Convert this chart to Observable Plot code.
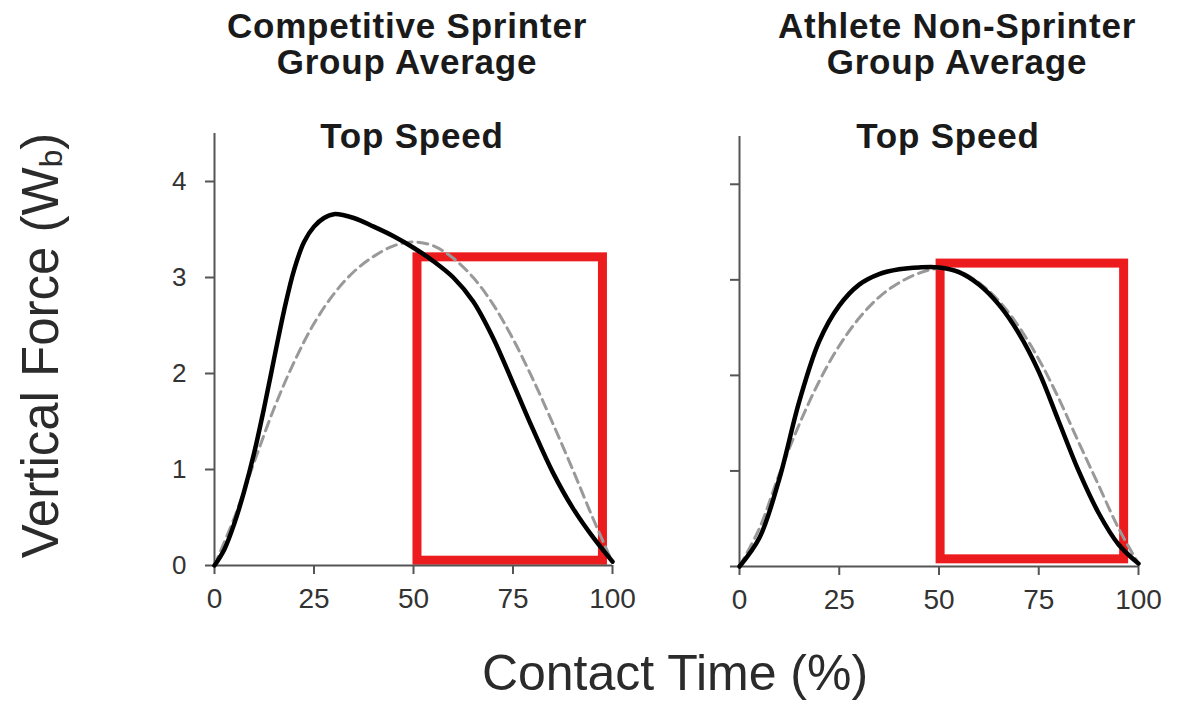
<!DOCTYPE html>
<html>
<head>
<meta charset="utf-8">
<script src="https://cdn.jsdelivr.net/npm/d3@7"></script>
<script src="https://cdn.jsdelivr.net/npm/@observablehq/plot@0.6"></script>
<style>
  html, body { margin: 0; padding: 0; background: #fff; }
  #wrap { position: relative; width: 1178px; height: 708px; overflow: hidden; background: #fff;
          font-family: "Liberation Sans", Arial, sans-serif; }
  .title { position: absolute; width: 500px; text-align: center; font-weight: bold; font-size: 35px;
           line-height: 36px; letter-spacing: 0.8px; color: #1a1a1a; white-space: nowrap; }
  .panel { position: absolute; }
  #xtitle { position: absolute; left: 375px; width: 600px; top: 648px; text-align: center; font-size: 50px;
            line-height: 50px; color: #2b2b2b; white-space: nowrap; }
  #ytitle { position: absolute; width: 500px; height: 51px; left: -210px; top: 320px; text-align: center;
            font-size: 51px; line-height: 51px; color: #2b2b2b; white-space: nowrap; transform: rotate(-90deg); }
  #ytitle span { font-size: 0.62em; position: relative; top: 0.12em; }
</style>
</head>
<body>
<div id="wrap">
  <div class="title" style="left:157px; top:8px;">Competitive Sprinter<br>Group Average</div>
  <div class="title" style="left:707px; top:8px;">Athlete Non-Sprinter<br>Group Average</div>
  <div class="title" style="left:162px; top:118px;">Top Speed</div>
  <div class="title" style="left:698px; top:118px;">Top Speed</div>
  <div id="left" class="panel" style="left:150px; top:120px;"></div>
  <div id="right" class="panel" style="left:675px; top:120px;"></div>
  <div id="ytitle">Vertical Force (W<span>b</span>)</div>
  <div id="xtitle">Contact Time (%)</div>
</div>
<script>
// ---- Data (contact time in %, vertical force in body weights) ----
const sprinterTime = [0, 2.5, 5, 7.5, 10, 12.5, 15, 17.5, 20, 22.5, 25, 27.5, 30, 35, 40, 45, 50, 55, 60, 65, 70, 75, 80, 85, 90, 95, 100];
const sprinterForce = [0, 0.17, 0.44, 0.78, 1.18, 1.65, 2.16, 2.66, 3.08, 3.37, 3.53, 3.62, 3.66, 3.62, 3.53, 3.43, 3.31, 3.17, 3.0, 2.75, 2.37, 1.9, 1.42, 0.97, 0.6, 0.3, 0.04];

const time = [0, 5, 10, 15, 20, 25, 30, 35, 40, 45, 50, 55, 60, 65, 70, 75, 80, 85, 90, 95, 100];
const sprinterModel = [0, 0.5, 1.08, 1.64, 2.12, 2.52, 2.83, 3.06, 3.22, 3.33, 3.37, 3.33, 3.2, 3.0, 2.72, 2.36, 1.94, 1.48, 1.0, 0.5, 0.03];

const nonSprinterForce = [0, 0.3, 0.92, 1.73, 2.36, 2.73, 2.95, 3.06, 3.11, 3.13, 3.13, 3.08, 2.95, 2.74, 2.44, 2.04, 1.52, 1.0, 0.56, 0.23, 0.03];
const nonSprinterModel = [0, 0.4, 0.97, 1.49, 1.94, 2.31, 2.6, 2.82, 2.97, 3.07, 3.12, 3.09, 2.97, 2.78, 2.51, 2.17, 1.76, 1.3, 0.85, 0.4, 0.03];

// highlighted second half of contact (red boxes): [sprinter, non-sprinter]
const boxX1 = [51, 50.4];
const boxX2 = [97.6, 96.4];
const boxY1 = [0.05, 0.075];
const boxY2 = [3.21, 3.17];

const xTicks = [0, 25, 50, 75, 100];
const yTicks = [0, 1, 2, 3, 4];

// ---- Build ----
function series(xs, ys) { return xs.map((x, i) => ({x, y: ys[i]})); }

function panel({meas, model, box, yLabels, margins}) {
  return Plot.plot({
    width: 480,
    height: 500,
    marginLeft: margins[0],
    marginRight: margins[1],
    marginTop: margins[2],
    marginBottom: margins[3],
    x: {domain: [0, 100]},
    y: {domain: [0, 4.5]},
    style: {background: "transparent", overflow: "visible", fontFamily: "Liberation Sans, Arial, sans-serif"},
    marks: [
      Plot.rect([box], {x1: "x1", x2: "x2", y1: "y1", y2: "y2", fill: "none", stroke: "#ec1c1e", strokeWidth: 9}),
      Plot.axisX(xTicks, {tickSize: 9, tickPadding: 14, fontSize: 28, label: null, stroke: "#555", strokeWidth: 2, fill: "#333"}),
      Plot.axisY(yTicks, {tickSize: 9, tickPadding: 19, fontSize: 26, label: null, stroke: "#555", strokeWidth: 2, fill: "#333",
                          tickFormat: yLabels ? (d => String(d)) : (() => "")}),
      Plot.ruleX([0], {stroke: "#555", strokeWidth: 2}),
      Plot.ruleY([0], {stroke: "#555", strokeWidth: 2}),
      Plot.line(model, {x: "x", y: "y", stroke: "#999", strokeWidth: 3, strokeDasharray: "10,6", curve: "catmull-rom"}),
      Plot.line(meas, {x: "x", y: "y", stroke: "#000", strokeWidth: 4.5, curve: "catmull-rom"})
    ]
  });
}

const boxes = boxX1.map((x1, i) => ({x1, x2: boxX2[i], y1: boxY1[i], y2: boxY2[i]}));

document.getElementById("left").append(panel({
  meas: series(sprinterTime, sprinterForce),
  model: series(time, sprinterModel),
  box: boxes[0],
  yLabels: true,
  margins: [64, 18, 13, 55]
}));

document.getElementById("right").append(panel({
  meas: series(time, nonSprinterForce),
  model: series(time, nonSprinterModel),
  box: boxes[1],
  yLabels: false,
  margins: [64, 17, 16, 54]
}));
</script>
</body>
</html>
